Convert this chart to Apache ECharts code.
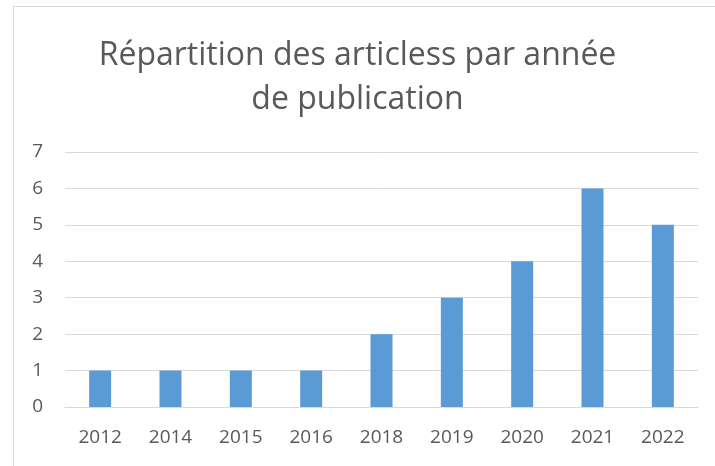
<!DOCTYPE html>
<html>
<head>
<meta charset="utf-8">
<script src="https://cdn.jsdelivr.net/npm/echarts@6/dist/echarts.min.js"></script>
<style>
html,body{margin:0;padding:0;background:#fff;}
#frame{position:absolute;left:13px;top:6px;width:740px;height:500px;border-top:1px solid #d9d9d9;border-left:1px solid #d9d9d9;}
#chart{position:absolute;left:0;top:0;width:715px;height:466px;}
</style>
</head>
<body>
<div id="frame"></div>
<div id="chart"></div>
<script>
const titleText = 'Répartition des articless par année\nde publication';
const categories = ['2012','2014','2015','2016','2018','2019','2020','2021','2022'];
const values = [1,1,1,1,2,3,4,6,5];
const yTicks = {min:0, max:7, interval:1};

const chart = echarts.init(document.getElementById('chart'), null, {renderer:'canvas'});
const font = '"Open Sans", sans-serif';
chart.setOption({
  animation:false,
  title:{
    text:titleText, left:'center', top:29,
    textStyle:{fontFamily:font, fontSize:32, fontWeight:'normal', color:'#595959', lineHeight:44}
  },
  grid:{left:65, right:17, top:152, bottom:59},
  xAxis:{
    type:'category', data:categories,
    axisLine:{lineStyle:{color:'#d9d9d9', width:1}},
    axisTick:{show:false},
    axisLabel:{fontFamily:font, fontSize:19, color:'#595959', margin:21}
  },
  yAxis:{
    type:'value', min:yTicks.min, max:yTicks.max, interval:yTicks.interval,
    axisLine:{show:false}, axisTick:{show:false},
    splitLine:{lineStyle:{color:'#d9d9d9', width:1}},
    axisLabel:{fontFamily:font, fontSize:19, color:'#595959', margin:22}
  },
  series:[{
    type:'bar', data:values, barWidth:22,
    itemStyle:{color:'#5b9bd5'}
  }]
});
</script>
</body>
</html>
